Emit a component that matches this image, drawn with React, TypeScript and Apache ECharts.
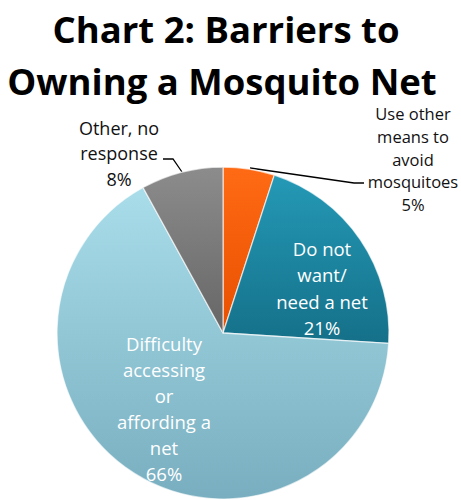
import React, { useEffect, useRef } from "react";
import * as echarts from "echarts";

const categories = [
  "Use other\nmeans to\navoid\nmosquitoes",
  "Do not\nwant/\nneed a net",
  "Difficulty\naccessing\nor\naffording a\nnet",
  "Other, no\nresponse",
];
const values = [5, 21, 66, 8];
const titleLines = ["Chart 2: Barriers to", "Owning a Mosquito Net"];
const colorsTop = ["#FF6A14", "#2499B6", "#A9DDEA", "#8C8C8C"];
const colorsBottom = ["#E85000", "#157089", "#78AEBF", "#666666"];

const FONT = "'Open Sans', Lato, sans-serif";

export default function App() {
  const ref = useRef<HTMLDivElement>(null);
  useEffect(() => {
    document.body.style.margin = "0";
    if (!ref.current) return;
    const chart = echarts.init(ref.current, null, { renderer: "svg" });
    const layouts: any[] = [
      { x: 413, y: 159, lh: 22.6, fs: 16.5, pts: [[250, 168], [354, 183], [364, 183]] },
      { x: 322, y: 288, lh: 26.5, fs: 18.5 },
      { x: 164, y: 408, lh: 26, fs: 18.5 },
      { x: 119, y: 153, lh: 25.5, fs: 18, pts: [[182, 172], [173, 159], [163, 159]] },
    ];
    const outside = [true, false, false, true];
    const titleStyle = {
      fontFamily: FONT,
      fontWeight: "bold",
      fontSize: 36.5,
      lineHeight: 36,
      color: "#000000",
    };
    chart.setOption({
      animation: false,
      backgroundColor: "#ffffff",
      title: [
        { text: titleLines[0], left: 221, textAlign: "center", top: 6, padding: 5, textStyle: titleStyle },
        { text: titleLines[1], left: 217, textAlign: "center", top: 58, padding: 5, textStyle: titleStyle },
      ],
      series: [
        {
          type: "pie",
          center: [223, 333],
          radius: 166,
          startAngle: 90,
          clockwise: true,
          avoidLabelOverlap: false,
          data: values.map((v, i) => ({
            value: v,
            name: categories[i],
            itemStyle: {
              color: new echarts.graphic.LinearGradient(0, 0, 0, 1, [
                { offset: 0, color: colorsTop[i] },
                { offset: 1, color: colorsBottom[i] },
              ]),
              borderColor: "rgba(255,255,255,0.65)",
              borderWidth: 1.3,
            },
            label: {
              position: outside[i] ? "outside" : "inside",
              color: outside[i] ? "#111111" : "#ffffff",
              lineHeight: layouts[i].lh,
              fontSize: layouts[i].fs,
            },
            labelLine: { show: outside[i] },
          })),
          label: {
            show: true,
            formatter: (p: any) => `${p.name}\n${p.value}%`,
            fontFamily: FONT,
            fontSize: 17,
            align: "center",
          },
          labelLine: {
            show: true,
            lineStyle: { color: "#000000", width: 1.3 },
          },
          labelLayout: (params: any) => {
            const l = layouts[params.dataIndex];
            const res: any = {
              x: l.x,
              y: l.y,
              align: "center",
              verticalAlign: "middle",
            };
            if (l.pts) res.labelLinePoints = l.pts;
            return res;
          },
        },
      ],
    });
    return () => chart.dispose();
  }, []);
  return <div ref={ref} style={{ width: 461, height: 500 }} />;
}
